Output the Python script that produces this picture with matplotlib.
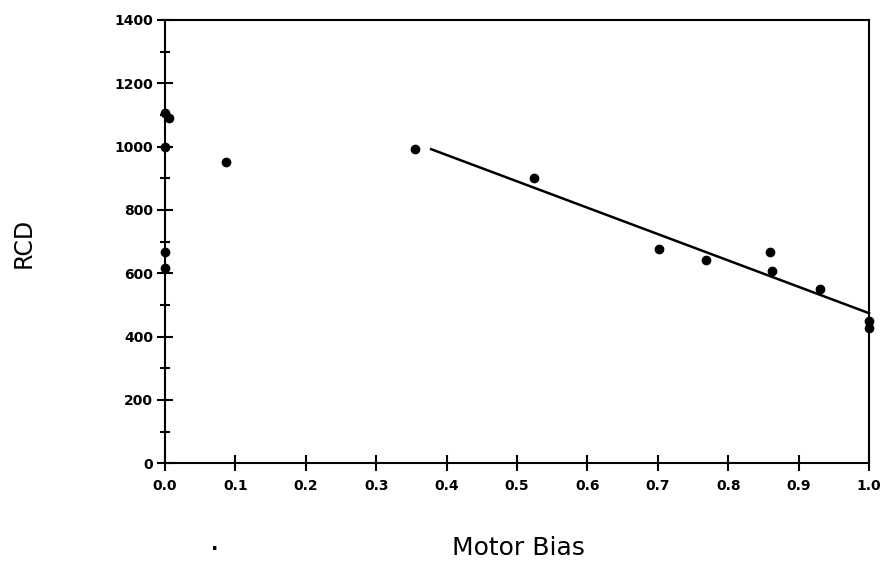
import matplotlib
matplotlib.use("Agg")
import matplotlib.pyplot as plt
from matplotlib.ticker import MultipleLocator

# data
motor_bias = [0.0, 0.006, 0.0, 0.0, 0.0, 0.087, 0.355, 0.524, 0.702, 0.768,
              0.859, 0.862, 0.930, 1.0, 1.0]
rcd = [1106, 1090, 998, 667, 617, 952, 992, 900, 677, 643,
       666, 608, 552, 450, 426]
fit_x = [0.378, 1.0]
fit_y = [992, 474]

x_ticks = [0.0, 0.1, 0.2, 0.3, 0.4, 0.5, 0.6, 0.7, 0.8, 0.9, 1.0]
y_ticks = [0, 200, 400, 600, 800, 1000, 1200, 1400]

fig = plt.figure(figsize=(8.83, 5.63), dpi=100)
ax = fig.add_axes([0.1869, 0.1771, 0.7973, 0.7874])

ax.plot(fit_x, fit_y, color="black", lw=1.8, clip_on=False)
ax.scatter(motor_bias, rcd, s=36, color="black", zorder=5, clip_on=False)

ax.set_xlim(0, 1.0)
ax.set_ylim(0, 1400)
ax.set_xticks(x_ticks)
ax.set_xticklabels([f"{v:.1f}" for v in x_ticks])
ax.set_yticks(y_ticks)
ax.yaxis.set_minor_locator(MultipleLocator(100))

for s in ax.spines.values():
    s.set_linewidth(1.5)

ax.tick_params(axis="both", which="major", direction="inout", length=11,
               width=1.5, labelsize=10)
ax.tick_params(axis="x", which="major", pad=6)
ax.tick_params(axis="y", which="major", pad=3)
ax.tick_params(axis="y", which="minor", direction="inout", length=7, width=1.5)
for lab in ax.get_xticklabels() + ax.get_yticklabels():
    lab.set_fontweight("bold")

fig.text(24 / 883, 1 - 243 / 563, "RCD", rotation=90, fontsize=17,
         ha="center", va="center")
fig.text(518 / 883, 1 - 548 / 563, "Motor Bias", fontsize=18,
         ha="center", va="center")
# small speck in the scanned original
fig.text(215 / 883, 1 - 544 / 563, ".", fontsize=14, fontweight="bold",
         ha="center", va="center")

fig.savefig("out.png", dpi=100)
